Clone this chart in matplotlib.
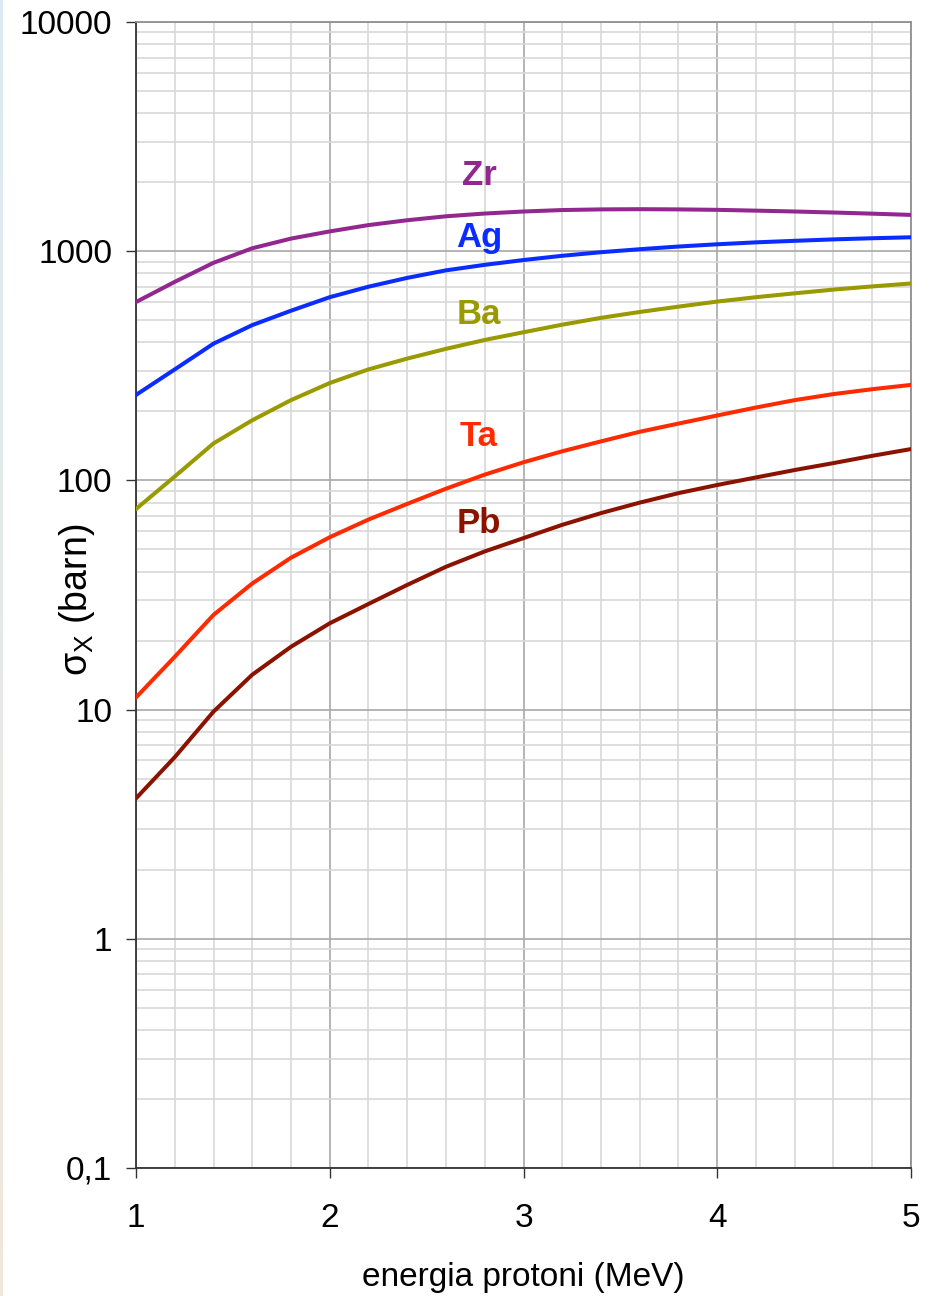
import numpy as np
import matplotlib
matplotlib.use("Agg")
import matplotlib.pyplot as plt
from matplotlib.ticker import FixedLocator, LogLocator, NullFormatter

plt.rcParams['font.family'] = ['Liberation Sans', 'DejaVu Sans']

# proton energy (MeV)
energy = [1.0, 1.2, 1.4, 1.6, 1.8, 2.0, 2.2, 2.4, 2.6, 2.8, 3.0,
          3.2, 3.4, 3.6, 3.8, 4.0, 4.2, 4.4, 4.6, 4.8, 5.0]

# X-ray production cross sections (barn)
sigma_zr = [600, 735, 890, 1030, 1135, 1220, 1300, 1365, 1420, 1460, 1490,
            1512, 1522, 1525, 1522, 1515, 1503, 1490, 1475, 1458, 1440]
sigma_ag = [236, 305, 395, 476, 550, 630, 700, 765, 825, 872, 915,
            955, 990, 1020, 1048, 1072, 1093, 1110, 1126, 1139, 1150]
sigma_ba = [75, 104, 145, 183, 224, 266, 305, 340, 375, 410, 443,
            478, 512, 543, 573, 603, 630, 655, 680, 702, 723]
sigma_ta = [11.3, 17.0, 25.9, 35.5, 46, 56.5, 67.5, 79, 92, 106, 120,
            134, 148, 163, 177, 192, 208, 224, 238, 250, 261]
sigma_pb = [4.1, 6.2, 9.8, 14.2, 18.8, 23.8, 28.9, 35, 42, 49, 56,
            64, 72, 80, 88, 95.5, 103, 111, 119, 128, 137]

elements = ['Zr', 'Ag', 'Ba', 'Ta', 'Pb']
series = [sigma_zr, sigma_ag, sigma_ba, sigma_ta, sigma_pb]
colors = ['#92278f', '#0a2cff', '#999900', '#ff2a00', '#8c1200']
label_y = [2150, 1153, 532, 156, 65]

y_ticks = [0.1, 1, 10, 100, 1000, 10000]
y_ticklabels = ['0,1', '1', '10', '100', '1000', '10000']
x_ticks = [1, 2, 3, 4, 5]

fig = plt.figure(figsize=(9.39, 12.96), dpi=100)

# thin tinted strip along the left edge
strip = fig.add_axes([0, 0, 3 / 939, 1])
grad = np.linspace(0, 1, 256).reshape(-1, 1, 1)
top_c = np.array([0.86, 0.92, 0.95])
bot_c = np.array([0.94, 0.91, 0.86])
strip.imshow(top_c * (1 - grad) + bot_c * grad, aspect='auto')
strip.axis('off')

ax = fig.add_axes([136 / 939, 1 - 1168 / 1296, 775 / 939, 1146 / 1296])
ax.set_yscale('log')
ax.set_xlim(1, 5)
ax.set_ylim(0.1, 10000)

for name, vals, col, ly in zip(elements, series, colors, label_y):
    ax.plot(energy, vals, color=col, lw=2.9, solid_joinstyle='round', zorder=3)
    ax.text(2.77, ly, name, color=col, fontsize=25, fontweight='bold',
            ha='center', va='center')

# grid: major lines a bit darker than the minor ones
ax.xaxis.set_major_locator(FixedLocator(x_ticks))
ax.xaxis.set_minor_locator(FixedLocator(np.arange(1, 5.01, 0.2)))
ax.yaxis.set_major_locator(FixedLocator(y_ticks))
ax.yaxis.set_minor_locator(LogLocator(base=10, subs=np.arange(2, 10), numticks=20))
ax.yaxis.set_minor_formatter(NullFormatter())
ax.grid(which='major', color='#a8a8a8', lw=1.2)
ax.grid(which='minor', color='#d8d8d8', lw=1.2)
ax.set_axisbelow(True)

ax.set_yticklabels(y_ticklabels)
ax.set_xticklabels([str(v) for v in x_ticks])
ax.tick_params(which='major', length=7, width=1, color='#333333',
               labelsize=24)
ax.tick_params(axis='y', which='major', pad=10)
ax.tick_params(axis='x', which='major', pad=18)
ax.tick_params(which='minor', length=0)

for side in ['left', 'bottom']:
    ax.spines[side].set_color('#333333')
    ax.spines[side].set_linewidth(1.3)
for side in ['top', 'right']:
    ax.spines[side].set_color('#909090')
    ax.spines[side].set_linewidth(1.3)

ax.set_xlabel('energia protoni (MeV)', fontsize=24)
ax.xaxis.set_label_coords(0.5, -0.082)
ax.set_ylabel(r'$\mathregular{\sigma_X}$ (barn)', fontsize=27)
ax.yaxis.set_label_coords(-0.05, 0.496)

fig.savefig('out.png', dpi=100)
